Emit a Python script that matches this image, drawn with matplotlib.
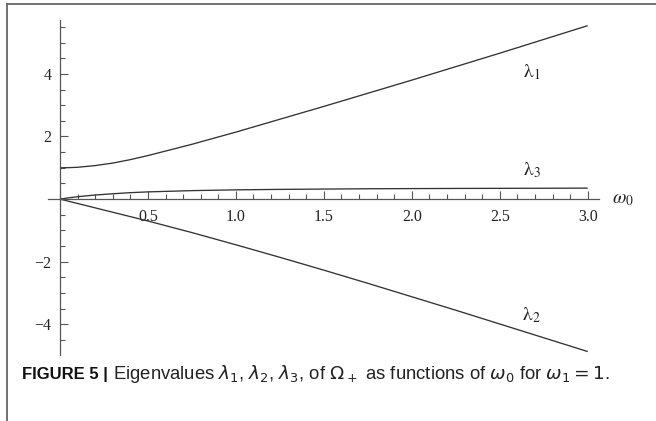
import matplotlib
matplotlib.use("Agg")
import matplotlib.pyplot as plt
from matplotlib.lines import Line2D
from matplotlib.ticker import MultipleLocator, FixedLocator, FuncFormatter

# values
omega0 = [0, 0.05, 0.1, 0.2, 0.3, 0.4, 0.5, 0.75, 1.0, 1.25, 1.5,
          1.75, 2.0, 2.25, 2.5, 2.75, 3.0]
lambda1 = [1.0, 1.004, 1.016, 1.07, 1.15, 1.26, 1.39, 1.75, 2.14, 2.55,
           2.96, 3.38, 3.80, 4.23, 4.66, 5.10, 5.54]
lambda2 = [0, -0.07, -0.14, -0.28, -0.42, -0.56, -0.70, -1.07, -1.46,
           -1.86, -2.27, -2.69, -3.12, -3.55, -3.99, -4.43, -4.87]
lambda3 = [0, 0.04, 0.075, 0.13, 0.17, 0.205, 0.23, 0.27, 0.295, 0.31,
           0.32, 0.33, 0.335, 0.34, 0.343, 0.346, 0.35]
x_ticks = [0.5, 1.0, 1.5, 2.0, 2.5, 3.0]
y_ticks = [-4, -2, 2, 4]

W, H = 656, 421
fig = plt.figure(figsize=(W / 100, H / 100), dpi=100)
ax = fig.add_axes([48 / W, 1 - 355 / H, 551 / W, 335 / H])

curve_col = "#333333"
axis_col = "#555555"
for vals in (lambda1, lambda2, lambda3):
    ax.plot(omega0, vals, color=curve_col, lw=0.95, solid_capstyle="butt")

ax.set_xlim(-0.068, 3.064)
ax.set_ylim(-4.98, 5.72)

for s in ("top", "right"):
    ax.spines[s].set_visible(False)
for s in ("left", "bottom"):
    ax.spines[s].set_position(("data", 0))
    ax.spines[s].set_color(axis_col)
    ax.spines[s].set_linewidth(0.9)

ax.xaxis.set_major_locator(FixedLocator(x_ticks))
ax.xaxis.set_minor_locator(MultipleLocator(0.1))
ax.yaxis.set_major_locator(FixedLocator(y_ticks))
ax.yaxis.set_minor_locator(MultipleLocator(0.5))
ax.xaxis.set_major_formatter(FuncFormatter(lambda v, p: f"{v:.1f}"))
ax.yaxis.set_major_formatter(FuncFormatter(lambda v, p: f"{v:.0f}".replace("-", "\u2212")))

ax.tick_params(which="both", direction="in", color=axis_col, width=0.8,
               labelsize=11.5, labelcolor="#222222")
ax.tick_params(which="major", length=6)
ax.tick_params(which="minor", length=3.5)
ax.tick_params(axis="x", which="major", pad=7)
ax.tick_params(axis="y", which="major", pad=6)
for lab in ax.get_xticklabels() + ax.get_yticklabels():
    lab.set_fontfamily("Liberation Serif")

lab_kw = dict(fontsize=14, color="#222222", math_fontfamily="stix",
              ha="center", va="center")
ax.text(2.68, 4.07, r"$\mathrm{\lambda}_1$", **lab_kw)
ax.text(2.68, 0.93, r"$\mathrm{\lambda}_3$", **lab_kw)
ax.text(2.68, -3.70, r"$\mathrm{\lambda}_2$", **lab_kw)
ax.text(3.2, 0.03, r"$\omega_0$", **lab_kw)

# frame around the figure panel
fig.add_artist(Line2D([7 / W, 7 / W], [0, 1 - 4 / H], transform=fig.transFigure,
                      color="#666666", lw=1.3))
fig.add_artist(Line2D([7 / W, 1], [1 - 4 / H, 1 - 4 / H], transform=fig.transFigure,
                      color="#666666", lw=1.3))

# caption
cap_y = 1 - 374 / H
t1 = fig.text(22 / W, cap_y, "FIGURE 5 |", fontsize=12, fontweight="bold",
              family="Liberation Sans", va="center", color="#111111")
fig.canvas.draw()
bb = t1.get_window_extent(fig.canvas.get_renderer())
fig.text(bb.x1 / W + 5 / W, cap_y,
         r"Eigenvalues $\lambda_1$, $\lambda_2$, $\lambda_3$, of $\Omega_+$ as functions "
         r"of $\omega_0$ for $\omega_1 = 1$.",
         fontsize=13.3, family="Liberation Sans", math_fontfamily="dejavusans",
         va="center", color="#222222")

fig.savefig("out.png", dpi=100)
